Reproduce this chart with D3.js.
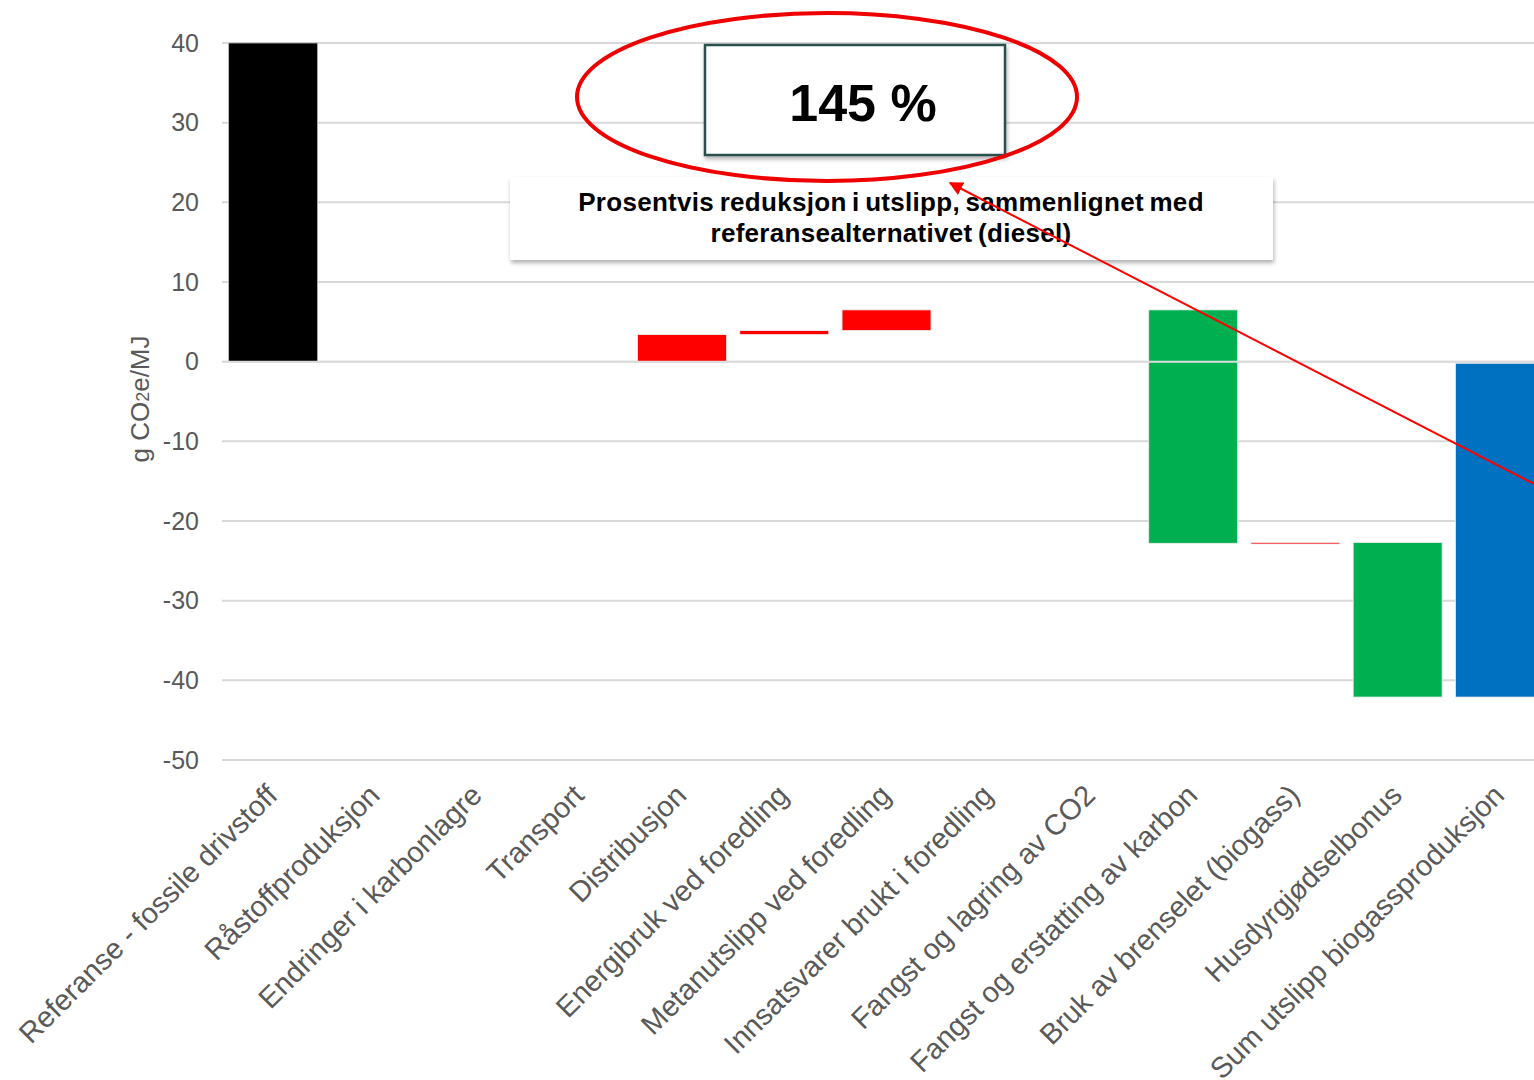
<!DOCTYPE html>
<html>
<head>
<meta charset="utf-8">
<script src="https://cdn.jsdelivr.net/npm/d3@7"></script>
<style>
  body { margin: 0; background: #fff; }
  svg { display: block; font-family: "Liberation Sans", Arial, sans-serif; }
</style>
</head>
<body>
<svg width="1534" height="1080"></svg>
<script>
const width = 1534;
const height = 1080;

// waterfall steps: each bar goes from start to end
const categories = [
    "Referanse - fossile drivstoff",
    "Råstoffproduksjon",
    "Endringer i karbonlagre",
    "Transport",
    "Distribusjon",
    "Energibruk ved foredling",
    "Metanutslipp ved foredling",
    "Innsatsvarer brukt i foredling",
    "Fangst og lagring av CO2",
    "Fangst og erstatting av karbon",
    "Bruk av brenselet (biogass)",
    "Husdyrgjødselbonus",
    "Sum utslipp biogassproduksjon",
];
const stepStart = [0, null, null, null, 0, 3.4, 3.9, null, null, 6.5, -22.8, -22.7, -0.2];
const stepEnd = [40, null, null, null, 3.4, 3.9, 6.5, null, null, -22.8, -22.7, -42.1, -42.1];
const stepKind = ["ref", "", "", "", "up", "up", "up", "", "", "down", "up", "down", "sum"];
const yTicks = [40, 30, 20, 10, 0, -10, -20, -30, -40, -50];

const percentText = "145 %";
const noteLines = [
    "Prosentvis reduksjon i utslipp, sammenlignet med",
    "referansealternativet (diesel)",
];

const kindColor = {
    ref: "#000000",
    up: "#ff0000",
    down: "#00b050",
    sum: "#0070c0",
};

const svg = d3.select("svg");

const x = d3.scaleBand()
    .domain(categories)
    .range([222, 1551])
    .paddingInner(0.13)
    .paddingOuter(0.065);

const y = d3.scaleLinear()
    .domain([-50, 40])
    .range([760, 43]);

// grid lines
svg.append("g")
    .selectAll("line")
    .data(yTicks)
    .join("line")
    .attr("x1", 222)
    .attr("x2", width)
    .attr("y1", (d) => y(d))
    .attr("y2", (d) => y(d))
    .attr("stroke", "#d9d9d9")
    .attr("stroke-width", 2);

// y axis labels (plain hyphen as minus, like the original)
svg.append("g")
    .attr("transform", "translate(199,0)")
    .call(d3.axisLeft(y).tickValues(yTicks).tickSize(0).tickPadding(0).tickFormat((d) => String(d)))
    .call((g) => g.select(".domain").remove())
    .call((g) => g.selectAll("text")
        .attr("fill", "#595959")
        .attr("font-size", 25)
        .attr("font-family", "Liberation Sans, Arial, sans-serif"));

// y axis title
const yTitle = svg.append("text")
    .attr("transform", "translate(149,399) rotate(-90)")
    .attr("text-anchor", "middle")
    .attr("fill", "#595959")
    .attr("font-size", 26);
yTitle.append("tspan").text("g CO");
yTitle.append("tspan").attr("font-size", 18).text("2");
yTitle.append("tspan").text("e/MJ");

// bars
const steps = categories
    .map((c, i) => ({ cat: c, start: stepStart[i], end: stepEnd[i], kind: stepKind[i] }))
    .filter((d) => d.start !== null);

svg.append("g")
    .selectAll("rect")
    .data(steps)
    .join("rect")
    .attr("x", (d) => x(d.cat))
    .attr("width", x.bandwidth())
    .attr("y", (d) => y(Math.max(d.start, d.end)))
    .attr("height", (d) => Math.max(1.5, Math.abs(y(d.start) - y(d.end))))
    .attr("fill", (d) => kindColor[d.kind])
    .attr("stroke", (d) => (d.kind === "ref" ? "#bbbbbb" : "#eeeeee"))
    .attr("stroke-width", 0.8);

// zero line drawn over the bars
svg.append("line")
    .attr("x1", 222)
    .attr("x2", width)
    .attr("y1", y(0))
    .attr("y2", y(0))
    .attr("stroke", "#dcdcdc")
    .attr("stroke-width", 2);

// x labels, rotated
svg.append("g")
    .selectAll("text")
    .data(categories)
    .join("text")
    .attr("transform", (d) => `translate(${x(d) + x.bandwidth() / 2 + 6},797) rotate(-45)`)
    .attr("text-anchor", "end")
    .attr("fill", "#595959")
    .attr("font-size", 29)
    .text((d) => d);

// shadow filter for annotation boxes
const defs = svg.append("defs");
const shadow = defs.append("filter")
    .attr("id", "shadow")
    .attr("x", "-10%").attr("y", "-20%")
    .attr("width", "120%").attr("height", "150%");
shadow.append("feDropShadow")
    .attr("dx", 1).attr("dy", 3)
    .attr("stdDeviation", 2)
    .attr("flood-color", "#000")
    .attr("flood-opacity", 0.3);

defs.append("marker")
    .attr("id", "arrow")
    .attr("viewBox", "0 0 10 10")
    .attr("refX", 9).attr("refY", 5)
    .attr("markerWidth", 7).attr("markerHeight", 7)
    .attr("orient", "auto")
    .append("path")
    .attr("d", "M0,0 L10,5 L0,10 z")
    .attr("fill", "#ff0000");

// note box
svg.append("rect")
    .attr("x", 510).attr("y", 177)
    .attr("width", 763).attr("height", 83)
    .attr("fill", "#fff")
    .attr("filter", "url(#shadow)");

svg.append("g")
    .selectAll("text")
    .data(noteLines)
    .join("text")
    .attr("x", 891)
    .attr("y", (d, i) => 211 + i * 31)
    .attr("text-anchor", "middle")
    .attr("font-size", 26)
    .attr("font-weight", "bold")
    .attr("letter-spacing", 0.3)
    .attr("word-spacing", -2)
    .attr("fill", "#000")
    .text((d) => d);

// percentage box
svg.append("rect")
    .attr("x", 705).attr("y", 45)
    .attr("width", 300).attr("height", 110)
    .attr("fill", "#fff")
    .attr("stroke", "#2b504e")
    .attr("stroke-width", 2.5)
    .attr("filter", "url(#shadow)");

svg.append("text")
    .attr("x", 863).attr("y", 121)
    .attr("text-anchor", "middle")
    .attr("font-size", 52)
    .attr("font-weight", "bold")
    .attr("fill", "#000")
    .text(percentText);

// red ellipse
svg.append("ellipse")
    .attr("cx", 827).attr("cy", 97)
    .attr("rx", 250).attr("ry", 84)
    .attr("fill", "none")
    .attr("stroke", "#ee0000")
    .attr("stroke-width", 4);

// arrow pointing at the ellipse
svg.append("line")
    .attr("x1", width + 2).attr("y1", 485)
    .attr("x2", 950).attr("y2", 183)
    .attr("stroke", "#ff0000")
    .attr("stroke-width", 2)
    .attr("marker-end", "url(#arrow)");
</script>
</body>
</html>
